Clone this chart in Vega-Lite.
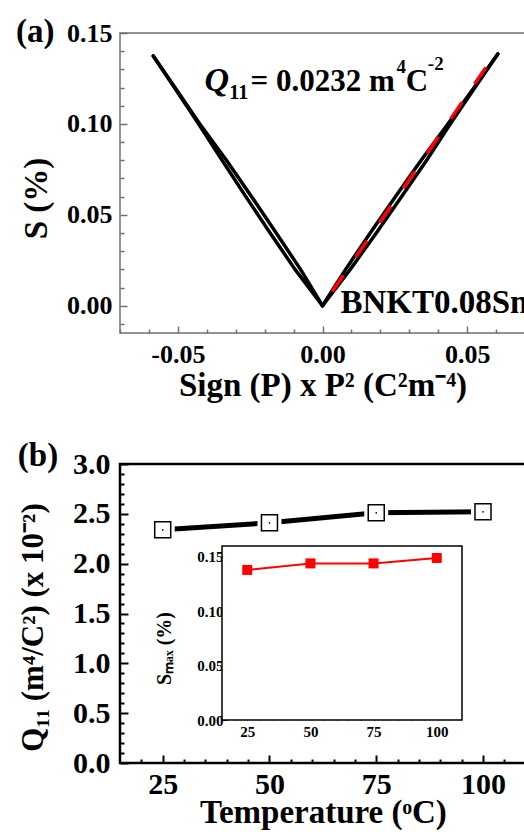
{
  "$schema": "https://vega.github.io/schema/vega-lite/v6.json",
  "width": 524,
  "height": 832,
  "autosize": {"type": "none"},
  "padding": 0,
  "background": "white",
  "config": {
    "view": {"stroke": null},
    "axis": {
      "labelFont": "Liberation Serif",
      "labelFontWeight": "bold",
      "labelColor": "black",
      "titleFont": "Liberation Serif",
      "titleFontWeight": "bold",
      "titleColor": "black",
      "grid": false,
      "domain": false,
      "labelOverlap": false,
      "labelFlush": false,
      "tickColor": "black"
    },
    "text": {"font": "Liberation Serif", "fontWeight": "bold", "color": "black"}
  },
  "datasets": {
    "loop": [
      {"strand": "LA", "o": 0, "x": -0.0585, "S": 0.1374},
      {"strand": "LA", "o": 1, "x": -0.0512, "S": 0.12},
      {"strand": "LA", "o": 2, "x": -0.0428, "S": 0.10},
      {"strand": "LA", "o": 3, "x": -0.0347, "S": 0.08},
      {"strand": "LA", "o": 4, "x": -0.0265, "S": 0.06},
      {"strand": "LA", "o": 5, "x": -0.0181, "S": 0.04},
      {"strand": "LA", "o": 6, "x": -0.0095, "S": 0.02},
      {"strand": "LA", "o": 7, "x": 0, "S": 0},
      {"strand": "LB", "o": 0, "x": -0.0585, "S": 0.1374},
      {"strand": "LB", "o": 1, "x": -0.0510, "S": 0.12},
      {"strand": "LB", "o": 2, "x": -0.0424, "S": 0.10},
      {"strand": "LB", "o": 3, "x": -0.0332, "S": 0.08},
      {"strand": "LB", "o": 4, "x": -0.0245, "S": 0.06},
      {"strand": "LB", "o": 5, "x": -0.0160, "S": 0.04},
      {"strand": "LB", "o": 6, "x": -0.0076, "S": 0.02},
      {"strand": "LB", "o": 7, "x": 0, "S": 0},
      {"strand": "RA", "o": 0, "x": 0, "S": 0},
      {"strand": "RA", "o": 1, "x": 0.0080, "S": 0.02},
      {"strand": "RA", "o": 2, "x": 0.0165, "S": 0.04},
      {"strand": "RA", "o": 3, "x": 0.0252, "S": 0.06},
      {"strand": "RA", "o": 4, "x": 0.0341, "S": 0.08},
      {"strand": "RA", "o": 5, "x": 0.0434, "S": 0.10},
      {"strand": "RA", "o": 6, "x": 0.0524, "S": 0.12},
      {"strand": "RA", "o": 7, "x": 0.0606, "S": 0.1385},
      {"strand": "RB", "o": 0, "x": 0, "S": 0},
      {"strand": "RB", "o": 1, "x": 0.0096, "S": 0.02},
      {"strand": "RB", "o": 2, "x": 0.0186, "S": 0.04},
      {"strand": "RB", "o": 3, "x": 0.0273, "S": 0.06},
      {"strand": "RB", "o": 4, "x": 0.0360, "S": 0.08},
      {"strand": "RB", "o": 5, "x": 0.0442, "S": 0.10},
      {"strand": "RB", "o": 6, "x": 0.0527, "S": 0.12},
      {"strand": "RB", "o": 7, "x": 0.0606, "S": 0.1385}
    ],
    "fit": [
      {"x": 0.0033, "S": 0.00766},
      {"x": 0.0592, "S": 0.13734}
    ],
    "q11": [
      {"T": 25, "Q": 2.34},
      {"T": 50, "Q": 2.41},
      {"T": 75, "Q": 2.51},
      {"T": 100, "Q": 2.52}
    ],
    "smax": [
      {"T": 25, "S": 0.138},
      {"T": 50, "S": 0.144},
      {"T": 75, "S": 0.144},
      {"T": 100, "S": 0.149}
    ],
    "one": [{}]
  },
  "layer": [
    {
      "layer": [
        {
          "data": {"name": "one"},
          "mark": {"type": "rect", "fill": "transparent", "stroke": "#707070", "strokeWidth": 1.5},
          "encoding": {
            "x": {
              "datum": -0.07, "type": "quantitative",
              "scale": {"domain": [-0.07, 0.07], "range": [120, 525], "nice": false, "zero": false},
              "axis": {
                "orient": "bottom", "offset": -499,
                "values": [-0.07, -0.06, -0.04, -0.03, -0.02, -0.01, 0.01, 0.02, 0.03, 0.04, 0.06, 0.07],
                "labels": false, "tickSize": -4, "tickColor": "#707070", "tickWidth": 1.5, "title": null
              }
            },
            "x2": {"datum": 0.07},
            "y": {
              "datum": -0.015, "type": "quantitative",
              "scale": {"domain": [-0.015, 0.15], "range": [333, 33], "nice": false, "zero": false},
              "axis": {
                "orient": "left", "offset": -120,
                "values": [-0.01, 0.01, 0.02, 0.03, 0.04, 0.06, 0.07, 0.08, 0.09, 0.11, 0.12, 0.13, 0.14],
                "labels": false, "tickSize": -4, "tickColor": "#707070", "tickWidth": 1.5, "title": null
              }
            },
            "y2": {"datum": 0.15}
          }
        },
        {
          "data": {"name": "loop"},
          "mark": {"type": "line", "color": "black", "strokeWidth": 3.5, "strokeCap": "round", "strokeJoin": "round"},
          "encoding": {
            "x": {
              "field": "x", "type": "quantitative",
              "axis": {
                "orient": "bottom", "offset": -499,
                "values": [-0.05, 0, 0.05],
                "format": ".2f",
                "labelExpr": "replace(datum.label, '−', '-')",
                "tickSize": -7, "tickColor": "#707070", "tickWidth": 1.5,
                "labelFontSize": 26, "labelPadding": 15,
                "title": "Sign (P) x P² (C²m⁻⁴)", "titleFontSize": 33, "titlePadding": 2
              }
            },
            "y": {
              "field": "S", "type": "quantitative",
              "axis": {
                "orient": "left", "offset": -120,
                "values": [0, 0.05, 0.1, 0.15],
                "format": ".2f",
                "tickSize": -7, "tickColor": "#707070", "tickWidth": 1.5,
                "labelFontSize": 26, "labelPadding": 15,
                "title": "S (%)", "titleFontSize": 33, "titlePadding": 13, "titleY": 198
              }
            },
            "detail": {"field": "strand"},
            "order": {"field": "o"}
          }
        },
        {
          "data": {"name": "fit"},
          "mark": {"type": "line", "color": "#ff0000", "strokeWidth": 3.5, "strokeDash": [20, 22]},
          "encoding": {
            "x": {"field": "x", "type": "quantitative", "axis": null},
            "y": {"field": "S", "type": "quantitative", "axis": null}
          }
        },
        {
          "data": {"name": "one"},
          "mark": {"type": "text", "text": "(a)", "fontSize": 33, "align": "center", "baseline": "middle"},
          "encoding": {"x": {"datum": -0.0993, "type": "quantitative", "axis": null}, "y": {"datum": 0.1505, "type": "quantitative", "axis": null}}
        },
        {
          "data": {"name": "one"},
          "mark": {"type": "text", "text": "Q", "fontSize": 34, "fontStyle": "italic", "align": "left", "baseline": "alphabetic"},
          "encoding": {"x": {"datum": -0.0408, "type": "quantitative", "axis": null}, "y": {"datum": 0.1181, "type": "quantitative", "axis": null}}
        },
        {
          "data": {"name": "one"},
          "mark": {"type": "text", "text": "11", "fontSize": 20, "align": "left", "baseline": "alphabetic"},
          "encoding": {"x": {"datum": -0.0322, "type": "quantitative", "axis": null}, "y": {"datum": 0.1137, "type": "quantitative", "axis": null}}
        },
        {
          "data": {"name": "one"},
          "mark": {"type": "text", "text": "= 0.0232 m", "fontSize": 31, "align": "left", "baseline": "alphabetic"},
          "encoding": {"x": {"datum": -0.0249, "type": "quantitative", "axis": null}, "y": {"datum": 0.1181, "type": "quantitative", "axis": null}}
        },
        {
          "data": {"name": "one"},
          "mark": {"type": "text", "text": "4", "fontSize": 19, "align": "left", "baseline": "alphabetic"},
          "encoding": {"x": {"datum": 0.0256, "type": "quantitative", "axis": null}, "y": {"datum": 0.128, "type": "quantitative", "axis": null}}
        },
        {
          "data": {"name": "one"},
          "mark": {"type": "text", "text": "C", "fontSize": 31, "align": "left", "baseline": "alphabetic"},
          "encoding": {"x": {"datum": 0.0288, "type": "quantitative", "axis": null}, "y": {"datum": 0.1181, "type": "quantitative", "axis": null}}
        },
        {
          "data": {"name": "one"},
          "mark": {"type": "text", "text": "-2", "fontSize": 19, "align": "left", "baseline": "alphabetic"},
          "encoding": {"x": {"datum": 0.0364, "type": "quantitative", "axis": null}, "y": {"datum": 0.1297, "type": "quantitative", "axis": null}}
        },
        {
          "data": {"name": "one"},
          "mark": {"type": "text", "text": "BNKT0.08Sn", "fontSize": 33, "align": "left", "baseline": "alphabetic"},
          "encoding": {"x": {"datum": 0.0062, "type": "quantitative", "axis": null}, "y": {"datum": -0.00385, "type": "quantitative", "axis": null}}
        }
      ],
      "resolve": {"axis": {"x": "independent", "y": "independent"}}
    },
    {
      "layer": [
        {
          "data": {"name": "one"},
          "mark": {"type": "rect", "fill": "transparent", "stroke": "black", "strokeWidth": 2.5},
          "encoding": {
            "x": {
              "datum": 15, "type": "quantitative",
              "scale": {"domain": [15, 110], "range": [120, 525.7], "nice": false, "zero": false},
              "axis": {
                "orient": "bottom", "offset": -69,
                "values": [20, 30, 35, 40, 45, 55, 60, 65, 70, 80, 85, 90, 95, 105],
                "labels": false, "tickSize": -4, "tickWidth": 2, "title": null
              }
            },
            "x2": {"datum": 110},
            "y": {
              "datum": 0, "type": "quantitative",
              "scale": {"domain": [0, 3], "range": [763, 464], "nice": false, "zero": false},
              "axis": {
                "orient": "left", "offset": -120,
                "values": [0.1, 0.2, 0.3, 0.4, 0.6, 0.7, 0.8, 0.9, 1.1, 1.2, 1.3, 1.4, 1.6, 1.7, 1.8, 1.9, 2.1, 2.2, 2.3, 2.4, 2.6, 2.7, 2.8, 2.9],
                "labels": false, "tickSize": -4, "tickWidth": 2, "title": null
              }
            },
            "y2": {"datum": 3}
          }
        },
        {
          "data": {"name": "q11"},
          "mark": {"type": "line", "color": "black", "strokeWidth": 5},
          "encoding": {
            "x": {
              "field": "T", "type": "quantitative",
              "axis": {
                "orient": "bottom", "offset": -69,
                "values": [25, 50, 75, 100],
                "tickSize": -8, "tickWidth": 2,
                "labelFontSize": 30, "labelPadding": 14,
                "title": "Temperature (ᵒC)", "titleFontSize": 33, "titlePadding": -3
              }
            },
            "y": {
              "field": "Q", "type": "quantitative",
              "axis": {
                "orient": "left", "offset": -120,
                "values": [0, 0.5, 1, 1.5, 2, 2.5, 3],
                "format": ".1f",
                "tickSize": -8, "tickWidth": 2,
                "labelFontSize": 30, "labelPadding": 18,
                "title": "Q₁₁ (m⁴/C²) (x 10⁻²)", "titleFontSize": 31, "titlePadding": 23, "titleY": 627
              }
            }
          }
        },
        {
          "data": {"name": "q11"},
          "mark": {"type": "point", "shape": "square", "filled": true, "color": "white", "size": 576, "opacity": 1},
          "encoding": {"x": {"field": "T", "type": "quantitative", "axis": null}, "y": {"field": "Q", "type": "quantitative", "axis": null}}
        },
        {
          "data": {"name": "q11"},
          "mark": {"type": "point", "shape": "square", "fill": "white", "stroke": "black", "strokeWidth": 1.5, "size": 256, "opacity": 1, "fillOpacity": 1},
          "encoding": {"x": {"field": "T", "type": "quantitative", "axis": null}, "y": {"field": "Q", "type": "quantitative", "axis": null}}
        },
        {
          "data": {"name": "q11"},
          "mark": {"type": "point", "shape": "circle", "filled": true, "color": "black", "size": 3, "opacity": 1},
          "encoding": {"x": {"field": "T", "type": "quantitative", "axis": null}, "y": {"field": "Q", "type": "quantitative", "axis": null}}
        },
        {
          "data": {"name": "one"},
          "mark": {"type": "text", "text": "(b)", "fontSize": 33, "align": "center", "baseline": "middle"},
          "encoding": {"x": {"datum": -4.2, "type": "quantitative", "axis": null}, "y": {"datum": 3.079, "type": "quantitative", "axis": null}}
        }
      ],
      "resolve": {"axis": {"x": "independent", "y": "independent"}}
    },
    {
      "layer": [
        {
          "data": {"name": "one"},
          "mark": {"type": "rect", "fill": "white", "stroke": "black", "strokeWidth": 1.5},
          "encoding": {
            "x": {
              "datum": 15, "type": "quantitative",
              "scale": {"domain": [15, 110], "range": [222, 462], "nice": false, "zero": false},
              "axis": {
                "orient": "bottom", "offset": -112,
                "values": [20, 30, 35, 40, 45, 55, 60, 65, 70, 80, 85, 90, 95, 105],
                "labels": false, "tickSize": -3, "tickWidth": 1, "title": null
              }
            },
            "x2": {"datum": 110},
            "y": {
              "datum": 0, "type": "quantitative",
              "scale": {"domain": [0, 0.16], "range": [720, 546], "nice": false, "zero": false},
              "axis": {
                "orient": "left", "offset": -222,
                "values": [0.01, 0.02, 0.03, 0.04, 0.06, 0.07, 0.08, 0.09, 0.11, 0.12, 0.13, 0.14],
                "labels": false, "tickSize": -3, "tickWidth": 1, "title": null
              }
            },
            "y2": {"datum": 0.16}
          }
        },
        {
          "data": {"name": "smax"},
          "mark": {"type": "line", "color": "#ff0000", "strokeWidth": 2},
          "encoding": {
            "x": {
              "field": "T", "type": "quantitative",
              "axis": {
                "orient": "bottom", "offset": -112,
                "values": [25, 50, 75, 100],
                "tickSize": -5, "tickWidth": 1,
                "labelFontSize": 15, "labelPadding": 9,
                "title": null
              }
            },
            "y": {
              "field": "S", "type": "quantitative",
              "axis": {
                "orient": "left", "offset": -222,
                "values": [0, 0.05, 0.1, 0.15],
                "format": ".2f",
                "tickSize": -5, "tickWidth": 1,
                "labelFontSize": 15, "labelPadding": 4,
                "title": "Sₘₐₓ (%)", "titleFontSize": 20, "titlePadding": 22, "titleY": 648
              }
            }
          }
        },
        {
          "data": {"name": "smax"},
          "mark": {"type": "point", "shape": "square", "filled": true, "color": "#ff0000", "size": 100, "opacity": 1},
          "encoding": {"x": {"field": "T", "type": "quantitative", "axis": null}, "y": {"field": "S", "type": "quantitative", "axis": null}}
        }
      ],
      "resolve": {"axis": {"x": "independent", "y": "independent"}}
    }
  ],
  "resolve": {
    "scale": {"x": "independent", "y": "independent"},
    "axis": {"x": "independent", "y": "independent"}
  }
}
